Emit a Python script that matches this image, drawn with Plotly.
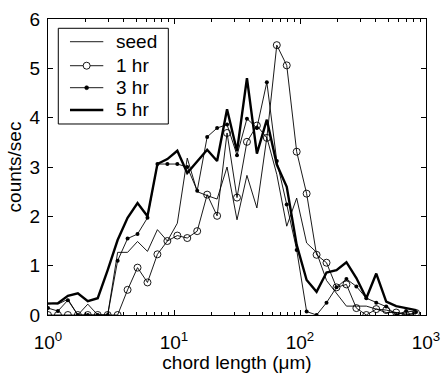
import numpy as np
import plotly.graph_objects as go

# chord length channels (um): 38 log-spaced channels from 1 to 1000
chord_length = [10 ** (3 * k / 38) for k in range(38)]

seed = [0.24, 0.22, 0.32, 0.0, 0.22, 0.0, 0.0, 1.27, 1.27, 1.49,
        1.29, 1.73, 1.50, 1.86, 3.18, 2.50, 2.42, 2.35, 3.00, 1.93,
        2.83, 2.17, 3.60, 2.85, 1.80, 2.37, 1.46, 1.27, 0.70, 0.45,
        0.18, 0.18, 0.18, 0.12, 0.05, 0.05, 0.02, 0.02]

hr1 = [0.0, 0.0, 0.0, 0.0, 0.0, 0.0, 0.0, 0.0, 0.51, 0.96,
       0.66, 1.23, 1.50, 1.61, 1.56, 1.70, 2.44, 2.01, 3.69, 2.38,
       3.51, 3.84, 3.59, 5.47, 5.06, 3.31, 2.46, 1.22, 1.06, 0.56,
       0.62, 0.14, 0.0, 0.12, 0.10, 0.05, 0.0, 0.04]

hr3 = [0.14, 0.08, 0.30, 0.0, 0.0, 0.0, 0.0, 1.10, 1.55, 1.64,
       1.97, 3.06, 3.06, 3.06, 3.00, 2.52, 3.61, 3.79, 3.86, 3.24,
       3.98, 3.79, 4.72, 3.12, 2.24, 1.32, 0.07, 0.0, 0.25, 0.56,
       0.73, 0.58, 0.34, 0.25, 0.17, 0.0, 0.08, 0.06]

hr5 = [0.23, 0.24, 0.39, 0.44, 0.28, 0.34, 0.91, 1.52, 1.97, 2.27,
       2.0, 3.06, 3.16, 3.33, 2.88, 3.12, 3.35, 3.12, 4.17, 3.32,
       4.80, 3.27, 3.96, 3.05, 2.60, 1.42, 0.71, 0.47, 0.86, 0.91,
       1.07, 0.75, 0.34, 0.84, 0.27, 0.18, 0.14, 0.10]

series_names = ["seed", "1 hr", "3 hr", "5 hr"]
x_tick_vals = [1, 10, 100, 1000]
x_tick_text = ["10<sup>0</sup>", "10<sup>1</sup>", "10<sup>2</sup>", "10<sup>3</sup>"]
y_tick_vals = [0, 1, 2, 3, 4, 5, 6]
minor_vals = [m * d for d in (1, 10, 100) for m in range(2, 10)]

FONT = "Liberation Sans, Arial, Helvetica, sans-serif"
FS = 19

fig = go.Figure()
fig.add_trace(go.Scatter(x=chord_length, y=seed, name=series_names[0], mode="lines",
                         line=dict(color="black", width=0.9), showlegend=False))
fig.add_trace(go.Scatter(x=chord_length, y=hr1, name=series_names[1], mode="lines+markers",
                         line=dict(color="black", width=0.9), showlegend=False,
                         marker=dict(symbol="circle-open", size=7, color="black",
                                     line=dict(width=0.9, color="black"))))
fig.add_trace(go.Scatter(x=chord_length, y=hr3, name=series_names[2], mode="lines+markers",
                         line=dict(color="black", width=0.9), showlegend=False,
                         marker=dict(symbol="circle", size=4, color="black")))
fig.add_trace(go.Scatter(x=chord_length, y=hr5, name=series_names[3], mode="lines",
                         line=dict(color="black", width=2.4), showlegend=False))

# --- hand-drawn MATLAB-style legend (paper coordinates of the plot area) ---
box = dict(x0=0.0272, x1=0.3183, y0=0.6453, y1=0.9686)
entry_y = [0.9233, 0.8422, 0.7679, 0.6926]
sample_x0, sample_x1, text_x = 0.0582, 0.1463, 0.1746
sample_xc = (sample_x0 + sample_x1) / 2
widths = [0.9, 0.9, 0.9, 2.4]

shapes = [dict(type="rect", xref="paper", yref="paper", **box,
               line=dict(color="black", width=1), fillcolor="white", layer="above")]
annotations = []
for name, yy, w in zip(series_names, entry_y, widths):
    shapes.append(dict(type="line", xref="paper", yref="paper",
                       x0=sample_x0, x1=sample_x1, y0=yy, y1=yy,
                       line=dict(color="black", width=w), layer="above"))
    annotations.append(dict(xref="paper", yref="paper", x=text_x, y=yy,
                            xanchor="left", yanchor="middle", showarrow=False,
                            text=name, font=dict(size=FS, family=FONT, color="black")))
# 1 hr open circle marker
shapes.append(dict(type="circle", xref="paper", yref="paper",
                   xsizemode="pixel", ysizemode="pixel",
                   xanchor=sample_xc, yanchor=entry_y[1],
                   x0=-3.5, x1=3.5, y0=-3.5, y1=3.5,
                   line=dict(color="black", width=0.9), fillcolor="white", layer="above"))
# 3 hr dot marker
shapes.append(dict(type="circle", xref="paper", yref="paper",
                   xsizemode="pixel", ysizemode="pixel",
                   xanchor=sample_xc, yanchor=entry_y[2],
                   x0=-2, x1=2, y0=-2, y1=2,
                   line=dict(color="black", width=0.5), fillcolor="black", layer="above"))

fig.update_layout(
    width=441, height=373,
    margin=dict(l=48, r=15, t=19, b=58),
    paper_bgcolor="white", plot_bgcolor="white",
    font=dict(family=FONT, size=FS, color="black"),
    showlegend=False,
    shapes=shapes,
    annotations=annotations,
)
fig.update_xaxes(
    type="log", range=[0, 3], tickmode="array", tickvals=x_tick_vals,
    ticktext=x_tick_text, ticks="inside", ticklen=5, tickcolor="black",
    showline=True, linecolor="black", linewidth=1, mirror="ticks",
    showgrid=False, zeroline=False, automargin=False,
    tickfont=dict(size=FS), ticklabelstandoff=10,
    minor=dict(tickmode="array", tickvals=minor_vals, ticks="inside",
               ticklen=3, tickcolor="black", showgrid=False),
    title=dict(text="chord length (\u03bcm)", font=dict(size=FS), standoff=5),
)
fig.update_yaxes(
    range=[0, 6], tickmode="array", tickvals=y_tick_vals,
    ticks="inside", ticklen=5, tickcolor="black",
    showline=True, linecolor="black", linewidth=1, mirror="ticks",
    showgrid=False, zeroline=False, automargin=False,
    tickfont=dict(size=FS), ticklabelstandoff=3,
    title=dict(text="counts/sec", font=dict(size=FS), standoff=2),
)

fig.write_html("out.html")
